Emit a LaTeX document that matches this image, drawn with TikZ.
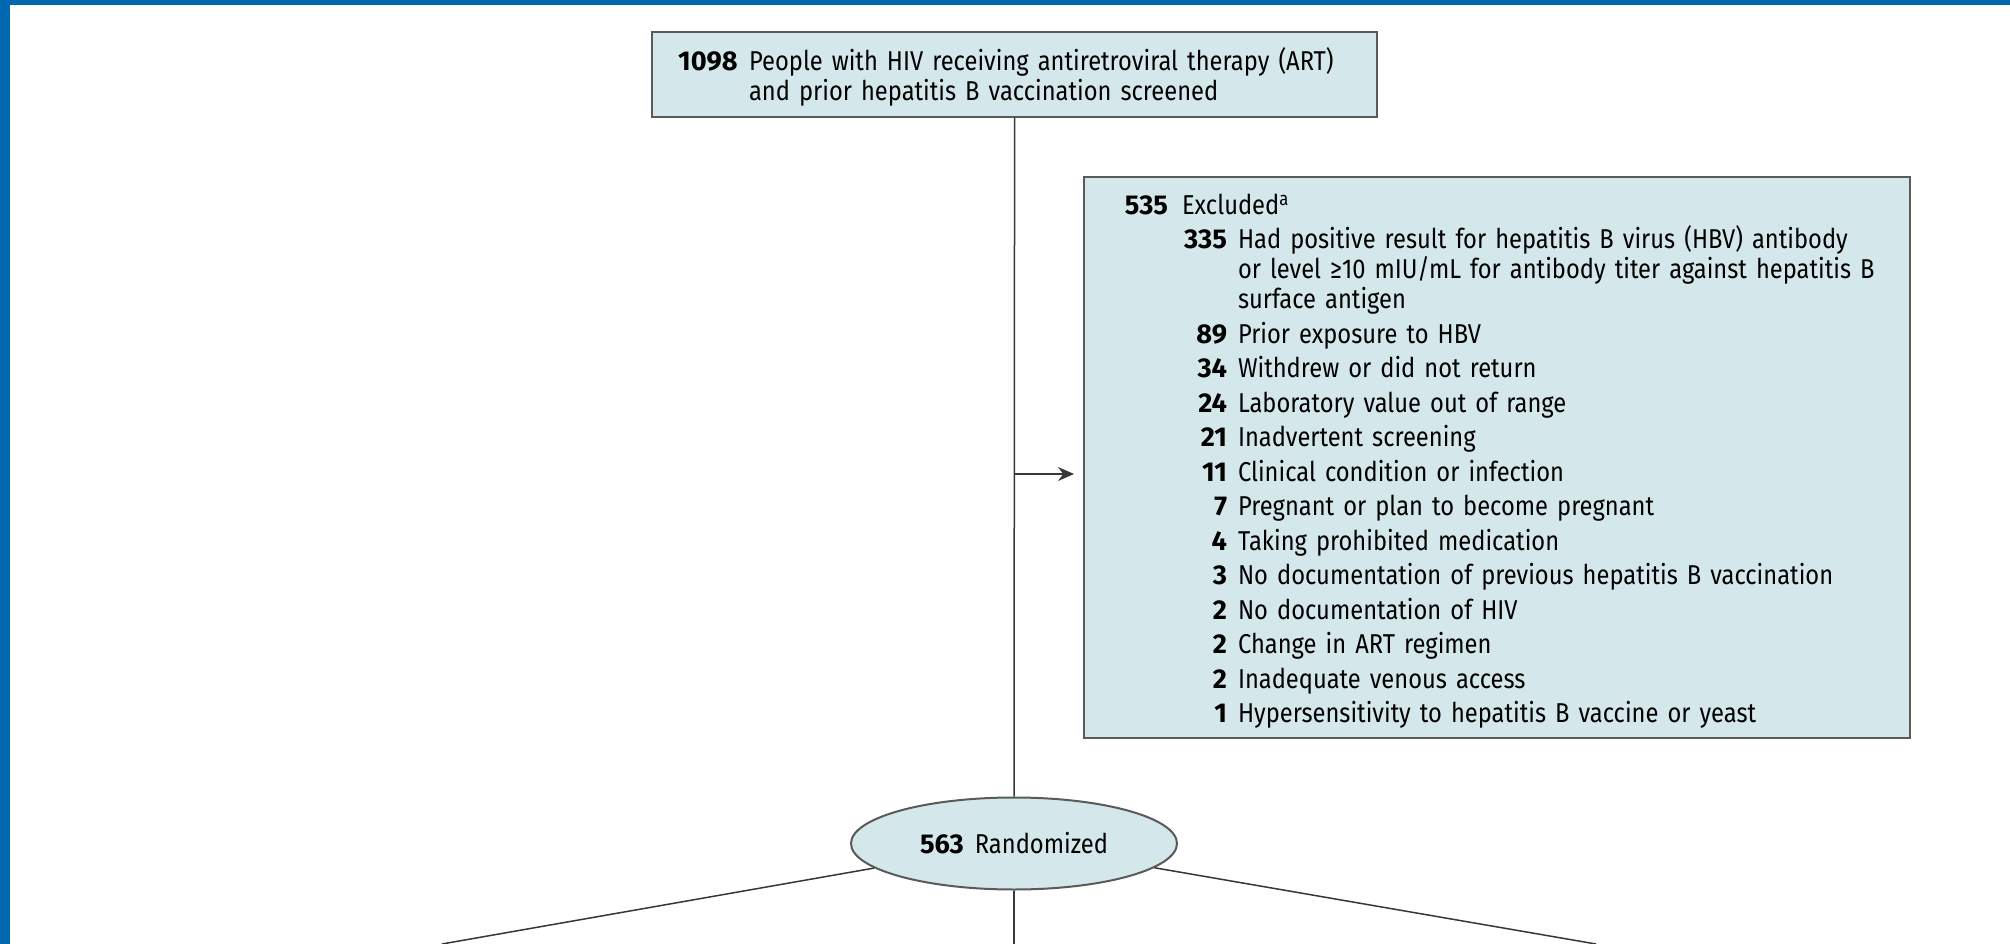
\documentclass[tikz,border=0pt]{standalone}
\usepackage{fontspec}
\setmainfont{Fira Sans}[FakeStretch=0.87]
\newfontfamily\numfont{Fira Sans}
\usetikzlibrary{arrows.meta, shapes.geometric, calc}
\definecolor{jamablue}{RGB}{0,103,177}
\definecolor{boxfill}{RGB}{212,231,234}
\definecolor{boxline}{RGB}{90,90,90}
\definecolor{flowline}{RGB}{55,55,55}
\newcommand\nb[2]{\makebox[#1][r]{\numfont\bfseries #2}}
\newcommand\topstrut{\rule{0pt}{6.4mm}}
\newcommand\botstrut{\rule[-2mm]{0pt}{0pt}}

\begin{document}
\begin{tikzpicture}[x=0.2mm, y=-0.2mm,
	font={\fontsize{15.5}{17.07}\selectfont},
	flowbox/.style={draw=boxline, line width=0.4mm, fill=boxfill, inner sep=0pt},
	flowline/.style={draw=flowline, line width=0.3mm}]
	\def\rsn#1#2{\nb{23mm}{#1}\hspace{2.2mm}#2}
	\useasboundingbox (0,0) rectangle (2010,944);
	% frame
	\fill[jamablue] (0,0) rectangle (10,944);
	\fill[jamablue] (0,0) rectangle (2010,5);
	% screened
	\node[flowbox, minimum height=17mm, text width=134.8mm, inner xsep=5.1mm, align=left] (screen) at (1014.6,74.5)
		{\topstrut\nb{12mm}{1098}\hspace{2.3mm}People with HIV receiving antiretroviral therapy (ART)\\[0.15mm]
		\hspace*{14.3mm}and prior hepatitis B vaccination screened\botstrut};
	% excluded
	\node[flowbox, minimum height=112.2mm, text width=154mm, inner xsep=5.6mm, align=left] (excl) at (1497,457.5)
		{\topstrut\nb{11.2mm}{535}\hspace{2.8mm}Excluded\textsuperscript{a}\\[0.9mm]
		\rsn{335}{Had positive result for hepatitis B virus (HBV) antibody}\\
		\hspace*{25.2mm}or level ≥10 mIU/mL for antibody titer against hepatitis B\\
		\hspace*{25.2mm}surface antigen\\[0.9mm]
		\rsn{89}{Prior exposure to HBV}\\[0.9mm]
		\rsn{34}{Withdrew or did not return}\\[0.9mm]
		\rsn{24}{Laboratory value out of range}\\[0.9mm]
		\rsn{21}{Inadvertent screening}\\[0.9mm]
		\rsn{11}{Clinical condition or infection}\\[0.9mm]
		\rsn{7}{Pregnant or plan to become pregnant}\\[0.9mm]
		\rsn{4}{Taking prohibited medication}\\[0.9mm]
		\rsn{3}{No documentation of previous hepatitis B vaccination}\\[0.9mm]
		\rsn{2}{No documentation of HIV}\\[0.9mm]
		\rsn{2}{Change in ART regimen}\\[0.9mm]
		\rsn{2}{Inadequate venous access}\\[0.9mm]
		\rsn{1}{Hypersensitivity to hepatitis B vaccine or yeast}\botstrut};
	% randomized
	\node[flowbox, ellipse, minimum width=65.2mm, minimum height=18.4mm] (rand) at (1014,843.5)
		{{\numfont\bfseries 563}\hspace{2.2mm}Randomized};
	\path (screen.south) ++(0,356) coordinate (split);
	\coordinate (armL) at (442,944);
	\coordinate (armC) at (1014,944);
	\coordinate (armR) at (1596,944);
	% connectors
	\draw[flowline] (screen.south) -- (rand.north);
	\draw[flowline, -{Stealth[length=3.2mm, width=2.8mm]}, shorten >=1.8mm] (split) -- (split -| excl.west);
	\draw[flowline] (rand) -- (armL);
	\draw[flowline] (rand.south) -- (armC);
	\draw[flowline] (rand) -- (armR);
\end{tikzpicture}
\end{document}
